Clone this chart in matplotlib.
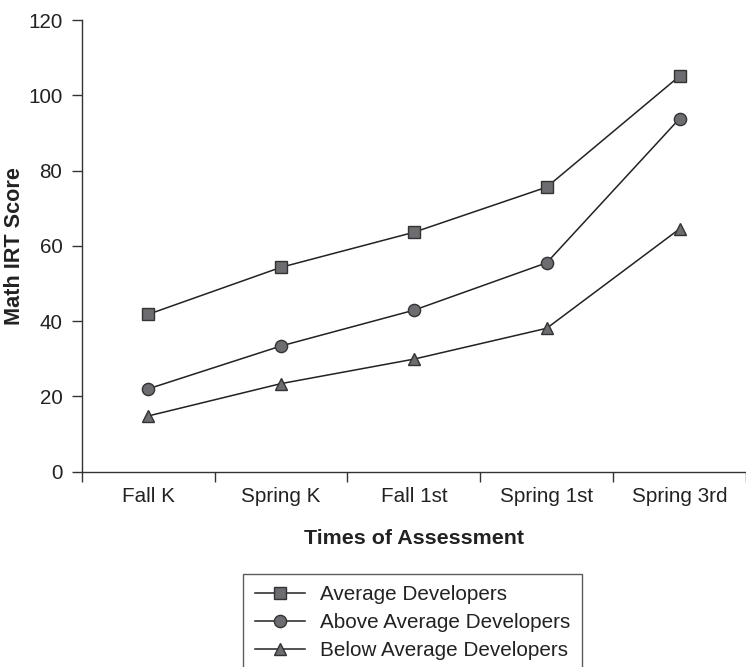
import matplotlib
matplotlib.use("Agg")
import matplotlib.pyplot as plt

plt.rcParams['font.family'] = ['Liberation Sans', 'DejaVu Sans']

categories = ["Fall K", "Spring K", "Fall 1st", "Spring 1st", "Spring 3rd"]
average = [41.8, 54.3, 63.6, 75.6, 105.1]
above_average = [22.0, 33.4, 42.9, 55.5, 93.8]
below_average = [14.8, 23.4, 29.9, 38.1, 64.5]
series_names = ["Average Developers", "Above Average Developers", "Below Average Developers"]
y_ticks = [0, 20, 40, 60, 80, 100, 120]

W, H = 746, 667
fig = plt.figure(figsize=(W / 100, H / 100), dpi=100)
ax = fig.add_axes([81.7 / W, 1 - 471.7 / H, 1 - 81.7 / W, (471.7 - 20) / H])

line_c = '#222222'
face_c = '#6c6c71'
edge_c = '#333333'
fs = 14.9

x = list(range(len(categories)))
for vals, mk, name in zip([average, above_average, below_average], ['s', 'o', '^'], series_names):
    ax.plot(x, vals, color=line_c, lw=1.1, marker=mk, markersize=8.8,
            markerfacecolor=face_c, markeredgecolor=edge_c, markeredgewidth=1.0,
            label=name, clip_on=False, zorder=3)

ax.set_ylim(0, 120)
ax.set_yticks(y_ticks)
ax.set_xlim(-0.497, 4.45)
ax.set_xticks(x)
ax.set_xticklabels(categories)
ax.set_xticks([i - 0.5 for i in range(len(categories) + 1)], minor=True)

for s in ['top', 'right']:
    ax.spines[s].set_visible(False)
for s in ['left', 'bottom']:
    ax.spines[s].set_color('#333333')
    ax.spines[s].set_linewidth(1.0)

ax.tick_params(axis='y', which='major', length=7, width=1.0, color='#333333',
               pad=7, labelsize=fs, labelcolor='#222222', direction='out')
ax.tick_params(axis='x', which='major', length=0, pad=11, labelsize=fs, labelcolor='#222222')
ax.tick_params(axis='x', which='minor', length=7, width=1.0, color='#333333', direction='out')

fig.text(15 / W, 1 - 246 / H, "Math IRT Score", rotation=90, ha='center', va='center',
         fontsize=15.6, fontweight='bold', color='#222222')
fig.text((81.7 + 746) / 2 / W, 1 - 539 / H, "Times of Assessment", ha='center', va='center',
         fontsize=15.4, fontweight='bold', color='#222222')

leg = fig.legend(loc='upper left', bbox_to_anchor=(243.3 / W, 1 - 574 / H),
                 fontsize=fs, frameon=True, fancybox=False, borderpad=0.55,
                 handlelength=2.45, handletextpad=0.7, labelspacing=0.42,
                 borderaxespad=0)
leg.get_frame().set_edgecolor('#333333')
leg.get_frame().set_linewidth(1.0)
for t in leg.get_texts():
    t.set_color('#222222')

fig.savefig("out.png", dpi=100)
